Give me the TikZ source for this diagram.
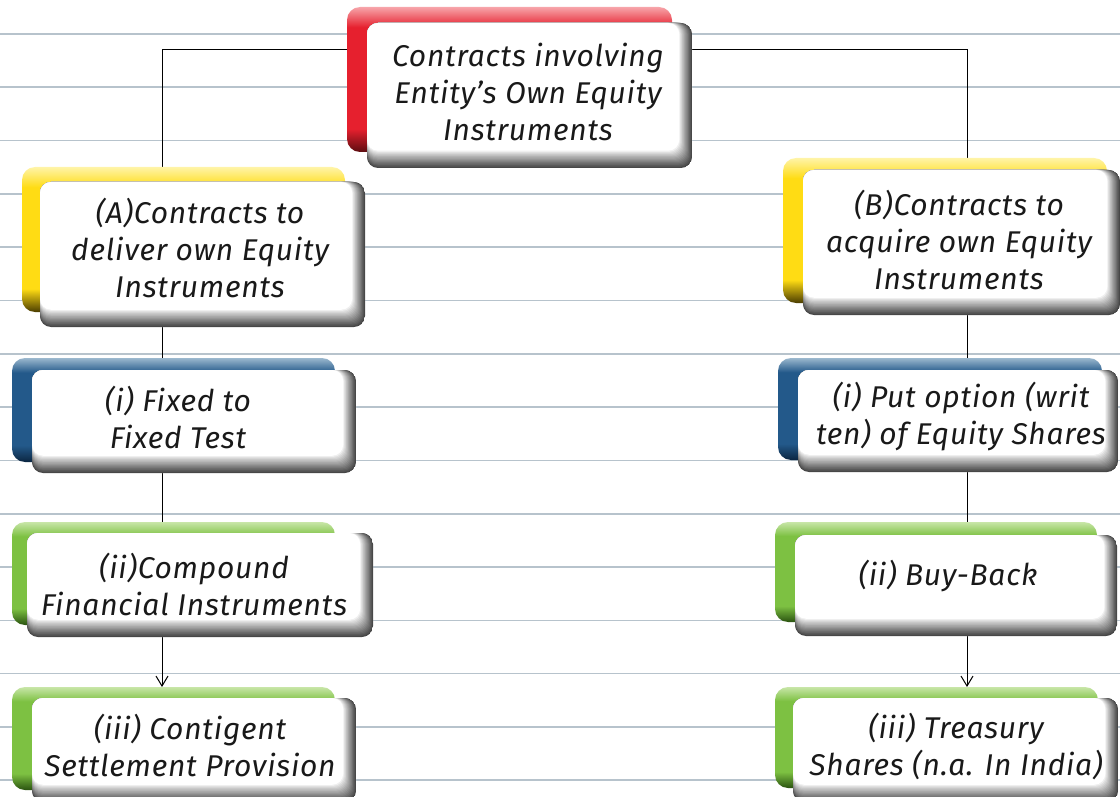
\documentclass[tikz,border=0pt]{standalone}
\usepackage{fontspec}
\setmainfont{Fira Sans}[ItalicFeatures={LetterSpace=2.5}]
\usetikzlibrary{arrows.meta}
\pgfdeclarelayer{bg}
\pgfsetlayers{bg,main}
\definecolor{rulec}{HTML}{B7C3CC}
\definecolor{redL}{HTML}{F7A5AA}\definecolor{redB}{HTML}{E6202E}\definecolor{redD}{HTML}{5C0C10}
\definecolor{yelL}{HTML}{FFF4A8}\definecolor{yelB}{HTML}{FFDC14}\definecolor{yelD}{HTML}{4A3C00}
\definecolor{bluL}{HTML}{9BB8CE}\definecolor{bluB}{HTML}{23598A}\definecolor{bluD}{HTML}{0B2540}
\definecolor{grnL}{HTML}{C8E6A8}\definecolor{grnB}{HTML}{7DC142}\definecolor{grnD}{HTML}{2A5210}
\newcommand\mkshade[4]{\pgfdeclareverticalshading{#1}{100bp}{color(0bp)=(#4); color(25bp)=(#4); color(33bp)=(#3); color(68bp)=(#3); color(75bp)=(#2); color(100bp)=(#2)}}
\mkshade{redsh}{redL}{redB}{redD}
\mkshade{yelsh}{yelL}{yelB}{yelD}
\mkshade{blush}{bluL}{bluB}{bluD}
\mkshade{grnsh}{grnL}{grnB}{grnD}
\tikzset{
  backbox/.style={rounded corners=13pt, inner sep=0pt, outer sep=0pt, shading=#1},
  frontbox/.style={rounded corners=11pt, inner sep=0pt, outer sep=0pt, fill=white,
    path picture={
      \fill[black!72] (path picture bounding box.south west) rectangle (path picture bounding box.north east);
      \foreach \k in {1,...,15}{
        \pgfmathsetmacro\pc{72*(1-\k/15)^0.9}
        \fill[black!\pc, rounded corners=11pt] (path picture bounding box.north west) rectangle ([xshift=-0.85*\k pt, yshift=1.15*\k pt]path picture bounding box.south east);
      }
    }},
  txt/.style={align=center, font=\itshape\fontsize{30}{37}\selectfont, text=black!90, inner sep=0pt},
  conn/.style={draw=black, line width=1pt},
  rulel/.style={draw=rulec, line width=1.6pt}
}
\begin{document}
\begin{tikzpicture}[x=1pt,y=-1pt]
\useasboundingbox (0,0) rectangle (1120,797);
% top
\node[backbox=redsh, minimum width=325pt, minimum height=145pt] (Tb) at (509.5,79.5) {};
\node[frontbox, minimum width=325pt, minimum height=145pt] (Tf) at (529.5,95.5) {};
\node[txt] (Tt) at (528,92) {Contracts involving\\Entity’s Own Equity\\Instruments};
% A
\node[backbox=yelsh, minimum width=323pt, minimum height=145pt] (Ab) at (183.5,239.5) {};
\node[frontbox, minimum width=325pt, minimum height=145pt] (Af) at (202.5,254.5) {};
\node[txt] (At) at (200,248) {(A)Contracts to\\deliver own Equity\\Instruments};
% B
\node[backbox=yelsh, minimum width=324pt, minimum height=145pt] (Bb) at (945,230.5) {};
\node[frontbox, minimum width=317pt, minimum height=145pt] (Bf) at (961.5,242.5) {};
\node[txt] (Bt) at (959,240) {(B)Contracts to\\acquire own Equity\\Instruments};
% A i
\node[backbox=blush, minimum width=323pt, minimum height=104pt] (Aib) at (173.5,410) {};
\node[frontbox, minimum width=324pt, minimum height=103pt] (Aif) at (194,421.5) {};
\node[txt] (Ait) at (178,417) {(i) Fixed to\\Fixed Test};
% A ii
\node[backbox=grnsh, minimum width=323pt, minimum height=103pt] (Aiib) at (173.5,573.5) {};
\node[frontbox, minimum width=346pt, minimum height=104pt] (Aiif) at (200,585) {};
\node[txt] (Aiit) at (194,584) {(ii)Compound\\Financial Instruments};
% A iii
\node[backbox=grnsh, minimum width=323pt, minimum height=103pt] (Aiiib) at (173.5,738.5) {};
\node[frontbox, minimum width=324pt, minimum height=104pt] (Aiiif) at (194,750) {};
\node[txt] (Aiiit) at (190,745) {(iii) Contigent\\Settlement Provision};
% B i
\node[backbox=blush, minimum width=324pt, minimum height=102pt] (Bib) at (940,409) {};
\node[frontbox, minimum width=320pt, minimum height=102pt] (Bif) at (958,421) {};
\node[txt] (Bit) at (961,417) {(i) Put option (writ\\ten) of Equity Shares};
% B ii
\node[backbox=grnsh, minimum width=322pt, minimum height=100pt] (Biib) at (936,572) {};
\node[frontbox, minimum width=322pt, minimum height=101pt] (Biif) at (956,585.5) {};
\node[txt] (Biit) at (948,576) {(ii) Buy-Back};
% B iii
\node[backbox=grnsh, minimum width=323pt, minimum height=101pt] (Biiib) at (936.5,737.5) {};
\node[frontbox, minimum width=325pt, minimum height=104pt] (Biiif) at (955.5,750) {};
\node[txt] (Biiit) at (956,746) {(iii) Treasury\\Shares (n.a. In India)};

\coordinate (LX) at (162,0);
\coordinate (RX) at (967,0);
\coordinate (LY) at (0,50);
\begin{pgfonlayer}{bg}
  \foreach \k in {0,...,14}{
    \draw[rulel] (0,{34+53.3*\k}) -- (1120,{34+53.3*\k});
  }
  \draw[conn] (Tb.west |- LY) -| (LX |- Ab.north);
  \draw[conn] (Tf.east |- LY) -| (RX |- Bb.north);
  \draw[conn] (LX |- Af.south) -- (LX |- Aib.north);
  \draw[conn] (LX |- Aif.south) -- (LX |- Aiib.north);
  \draw[conn,-{Straight Barb[length=10pt,width=12pt]}] (LX |- Aiif.south) -- (LX |- Aiiib.north);
  \draw[conn] (RX |- Bf.south) -- (RX |- Bib.north);
  \draw[conn] (RX |- Bif.south) -- (RX |- Biib.north);
  \draw[conn,-{Straight Barb[length=10pt,width=12pt]}] (RX |- Biif.south) -- (RX |- Biiib.north);
\end{pgfonlayer}
\end{tikzpicture}
\end{document}
